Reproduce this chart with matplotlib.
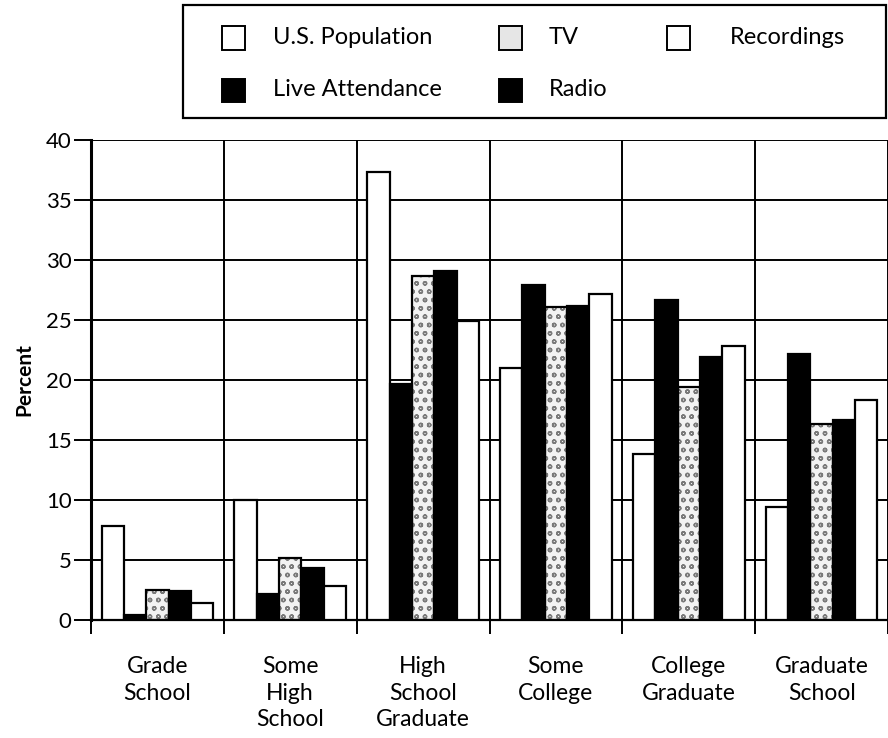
import matplotlib
matplotlib.use("Agg")
import matplotlib.pyplot as plt
import numpy as np
from matplotlib.patches import Rectangle

plt.rcParams["font.family"] = ["Lato", "DejaVu Sans"]

categories = ["Grade\nSchool", "Some\nHigh\nSchool", "High\nSchool\nGraduate",
              "Some\nCollege", "College\nGraduate", "Graduate\nSchool"]
series_names = ["U.S. Population", "Live Attendance", "TV", "Radio", "Recordings"]
us_population = [7.8, 10.0, 37.3, 21.0, 13.8, 9.4]
live_attendance = [0.4, 2.2, 19.7, 27.9, 26.7, 22.2]
tv = [2.5, 5.2, 28.7, 26.1, 19.4, 16.3]
radio = [2.4, 4.3, 29.1, 26.2, 21.9, 16.7]
recordings = [1.4, 2.8, 24.9, 27.2, 22.8, 18.3]
y_ticks = [0, 5, 10, 15, 20, 25, 30, 35, 40]

W, H = 888, 738
fig = plt.figure(figsize=(W / 100, H / 100), dpi=100)
ax = fig.add_axes([91 / W, 1 - 620 / H, 1 - 91 / W, (620 - 140) / H])

# grid behind bars
for yv in y_ticks:
    ax.axhline(yv, color="black", lw=1.4, zorder=0)
for xv in range(0, 7):
    ax.axvline(xv, color="black", lw=1.4, zorder=0)

bar_w = 0.168
x = np.arange(len(categories))
offsets = (np.arange(5) - 2) * bar_w + 0.5
values = [us_population, live_attendance, tv, radio, recordings]
faces = ["white", "black", "white", "black", "white"]

for i, (vals, fc) in enumerate(zip(values, faces)):
    pos = x + offsets[i]
    if series_names[i] == "TV":
        ax.bar(pos, vals, bar_w, color="#f2f2f2", edgecolor="#7a7a7a",
               hatch="oo", linewidth=0, zorder=2)
        ax.bar(pos, vals, bar_w, facecolor="none", edgecolor="black",
               linewidth=1.6, zorder=3)
    else:
        ax.bar(pos, vals, bar_w, color=fc, edgecolor="black",
               linewidth=1.6, zorder=3)

ax.set_xlim(0, (W - 91) / 134.6)
ax.set_ylim(0, 40)
ax.set_yticks(y_ticks)
ax.set_yticklabels([str(v) for v in y_ticks], fontsize=16)
ax.tick_params(axis="y", direction="out", length=12, width=1.4, pad=2)

ax.set_xticks(range(0, 7))
ax.set_xticklabels([""] * 7)
ax.tick_params(axis="x", which="major", direction="out", length=10, width=1.4)
ax.set_xticks(x + 0.5, minor=True)
ax.set_xticklabels(categories, minor=True, fontsize=16.5, linespacing=1.32)
ax.tick_params(axis="x", which="minor", length=0, pad=26)

for side in ["top", "right"]:
    ax.spines[side].set_visible(False)
ax.spines["left"].set_linewidth(2.2)
ax.spines["bottom"].set_linewidth(1.6)

fig.text(24 / W, 1 - 380 / H, "Percent", rotation=90, fontsize=15,
         fontweight="bold", ha="center", va="center")

# legend box drawn by hand to match the original layout
def fx(px):
    return px / W

def fy(py):
    return 1 - py / H

fig.patches.append(Rectangle((fx(183), fy(118)), fx(886) - fx(183), fy(5) - fy(118),
                             transform=fig.transFigure, facecolor="white",
                             edgecolor="black", linewidth=1.6))
legend_cols = [(222, 273), (222, 273), (499, 549), (499, 549), (667, 730)]
legend_rows = [38, 90, 38, 90, 38]
legend_faces = ["white", "black", "#e6e6e6", "black", "white"]
box = 23
for name, (mx, tx), ry, fc in zip(series_names, legend_cols, legend_rows, legend_faces):
    fig.patches.append(Rectangle((fx(mx), fy(ry + box / 2)), box / W, box / H,
                                 transform=fig.transFigure, facecolor=fc,
                                 edgecolor="black", linewidth=1.4))
    fig.text(fx(tx), fy(ry), name, fontsize=17, ha="left", va="center")

fig.savefig("out.png", dpi=100)
